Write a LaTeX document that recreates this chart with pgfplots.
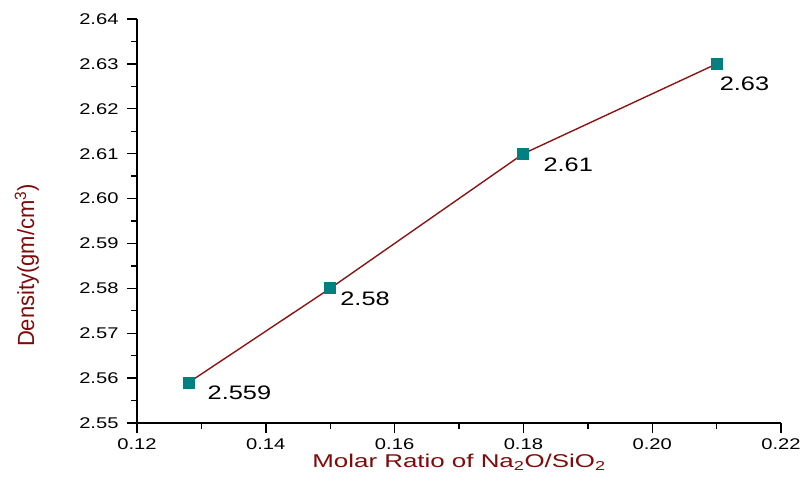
\documentclass[border=0pt]{standalone}
\usepackage{pgfplots}
\pgfplotsset{compat=1.18}
\usepackage{fontspec}
\setmainfont[FakeStretch=1.3]{Liberation Sans}
\newfontfamily\xlabfont[FakeStretch=1.4]{Liberation Sans}
\newfontfamily\ylabfont{Liberation Sans}
\definecolor{linered}{RGB}{139,20,20}
\definecolor{marktea}{RGB}{0,128,128}
\definecolor{labred}{RGB}{128,10,10}
\newcommand\tickfont{\fontsize{15.5}{18}\selectfont}

\begin{document}
\begin{tikzpicture}[x=1pt,y=1pt]
% fixed frame for the overall page size
\path[use as bounding box] (-137,-62) rectangle (665,423);
\begin{axis}[
  at={(0,0)}, anchor=origin,
  scale only axis,
  width=644pt, height=404pt,
  xmin=0.12, xmax=0.22, ymin=2.55, ymax=2.64,
  axis lines=left,
  axis line style={line width=1.6pt, black, -},
  xtick={0.12,0.14,...,0.221},
  ytick={2.55,2.56,...,2.641},
  minor x tick num=1, minor y tick num=1,
  tick align=outside,
  major tick length=10pt, minor tick length=6pt,
  every tick/.style={black, line width=1.4pt},
  xticklabel={\tickfont\pgfmathprintnumber[fixed,fixed zerofill,precision=2,assume math mode=true]{\tick}},
  yticklabel={\tickfont\pgfmathprintnumber[fixed,fixed zerofill,precision=2,assume math mode=true]{\tick}},
  xticklabel style={yshift=-2pt},
  yticklabel style={xshift=-5pt},
  xlabel={Molar Ratio of Na\textsubscript{2}O/SiO\textsubscript{2}},
  ylabel={\scalebox{1}[1.06]{Density(gm/cm\textsuperscript{3})}},
  xlabel style={font=\xlabfont\fontsize{18.5}{22}\selectfont, text=labred, yshift=2pt},
  ylabel style={font=\ylabfont\fontsize{22}{26}\selectfont, text=labred,
    at={(axis description cs:-0.171,0.39)}, anchor=center, rotate=0},
  clip=false,
]
\addplot[color=linered, line width=1.4pt, mark=square*,
  mark size=5.5pt, mark options={fill=marktea, draw=marktea, line width=0pt}]
  coordinates {(0.128,2.559) (0.15,2.58) (0.18,2.61) (0.21,2.63)};
\begin{scope}[every node/.style={anchor=north west, inner sep=0pt,
    font=\fontsize{19.5}{22}\selectfont}]
\node[xshift=19pt, yshift=-3pt] at (axis cs:0.128,2.559) {2.559};
\node[xshift=10pt, yshift=-3pt] at (axis cs:0.15,2.58) {2.58};
\node[xshift=20pt, yshift=-4pt] at (axis cs:0.18,2.61) {2.61};
\node[xshift=3pt, yshift=-13pt] at (axis cs:0.21,2.63) {2.63};
\end{scope}
\end{axis}
\end{tikzpicture}
\end{document}
